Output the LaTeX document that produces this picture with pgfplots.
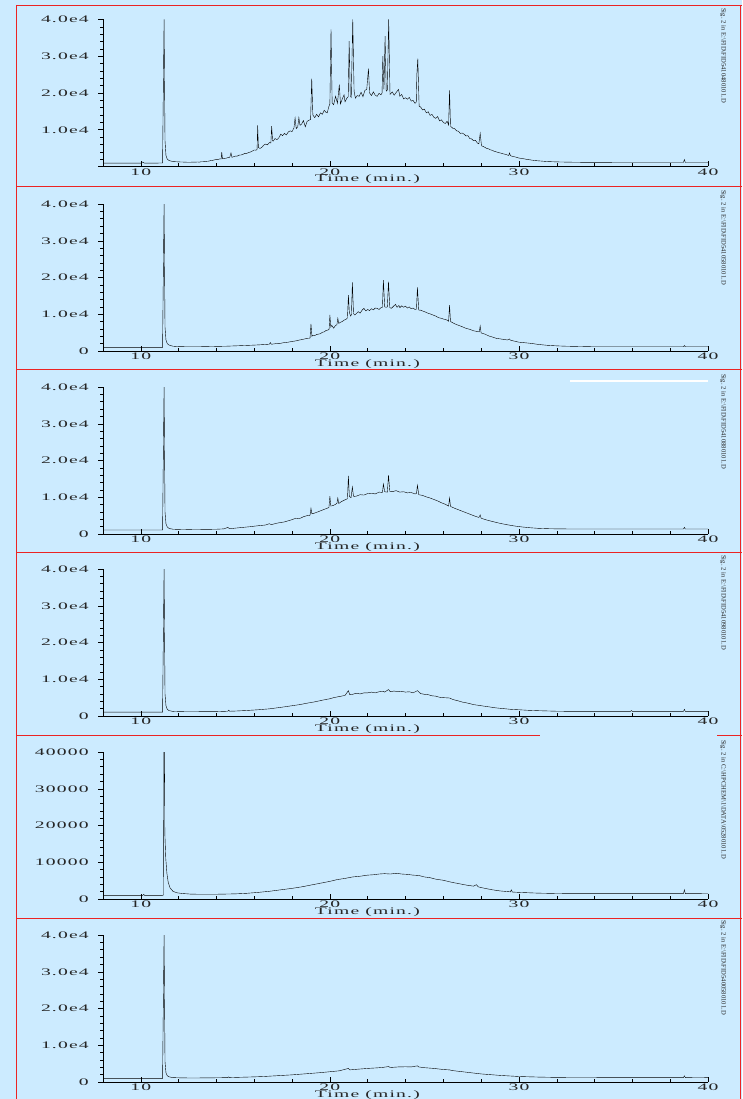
\documentclass[border=0pt]{standalone}
\usepackage{pgfplots}
\pgfplotsset{compat=1.18}
\usepackage{fontspec}
\setmainfont{Liberation Serif}
\newfontfamily\widefont[FakeStretch=1.96, LetterSpace=12]{Liberation Serif}
\newcommand\chfont{\fontsize{10}{11}\selectfont\widefont}
\newcommand\sigfont{\fontsize{6.6}{7}\selectfont}
\definecolor{panelbg}{RGB}{204,235,255}
\definecolor{framered}{RGB}{235,35,35}

\pgfplotsset{
  chrom/.style={
    scale only axis, width=605pt, height=147pt,
    xmin=8, xmax=40, ymin=0, ymax=40000,
    axis x line=bottom, axis y line=left,
    axis line style={-, black, line width=0.6pt},
    xtick={10,20,30,40}, xticklabels={10,20,30,40}, minor x tick num=4,
    ytick={0,10000,20000,30000,40000}, minor y tick num=4,
    ytick align=outside, xtick align=inside,
    major tick length=5pt, minor tick length=3pt,
    tick style={black, line width=0.5pt},
    scaled y ticks=false,
    /pgf/number format/assume math mode=true,
    every tick label/.append style={font=\chfont, text=black!85},
    xticklabel style={inner sep=0pt, yshift=-2pt},
    yticklabel style={inner sep=0pt, xshift=-9pt},
    xlabel={Time (min.)},
    xlabel style={font=\chfont, text=black!85, inner sep=0pt,
      at={(rel axis cs:0.437,0)}, anchor=north, yshift=-8pt},
    cycle list={{black, line width=1.1pt, mark=none, line join=round}},
    clip=true,
  },
  sci/.style={yticklabels={0,1.0e4,2.0e4,3.0e4,4.0e4}},
}

\begin{document}
\begin{tikzpicture}
\fill[panelbg, use as bounding box] (0pt,0pt) rectangle (742pt,-1099pt);

% ---------------- run 1 ----------------
\begin{axis}[chrom, at={(103pt,-166.5pt)}, anchor=south west,
  yticklabels={,1.0e4,2.0e4,3.0e4,4.0e4}]
\addplot coordinates {
(8,900)(10.0,900)(10.1,1200)(10.2,900)(11.15,950)(11.23,40000)(11.28,7000)(11.33,3000)(11.4,2000)(11.5,1600)(11.7,1350)(12.0,1250)(12.3,1200)
(12.5,1150)(12.6,1150)(12.7,1180)(12.8,1170)(12.9,1200)(13.0,1220)(13.1,1200)(13.2,1290)(13.3,1300)(13.4,1340)(13.5,1420)(13.6,1460)(13.7,1620)(13.8,1680)(13.9,1800)
(14.0,1930)(14.1,1930)(14.2,2100)(14.25,2050)(14.28,3900)(14.32,2100)(14.4,2200)(14.5,2250)(14.6,2400)(14.7,2450)(14.77,3700)(14.82,2500)(14.9,2650)
(15.0,2820)(15.1,2840)(15.2,3100)(15.3,3130)(15.4,3300)(15.5,3560)(15.6,3560)(15.7,3800)(15.8,3950)(15.9,4200)
(16.0,4500)(16.1,4450)(16.15,4700)(16.18,11200)(16.22,5200)(16.3,4900)(16.4,5200)(16.5,5800)(16.6,6100)(16.7,5900)(16.8,6500)(16.88,6400)(16.92,11000)(16.97,7000)
(17.0,6900)(17.1,7600)(17.2,7300)(17.3,7800)(17.4,8800)(17.5,8400)(17.6,9000)(17.7,8600)(17.8,9400)(17.9,9700)
(18.0,9500)(18.1,10500)(18.16,13200)(18.22,10300)(18.3,10800)(18.36,13300)(18.42,11200)(18.5,11500)(18.6,12500)(18.7,10800)(18.8,12300)(18.9,12600)(18.98,12800)
(19.04,23900)(19.1,14000)(19.2,13300)(19.3,14200)(19.4,13500)(19.5,14600)(19.6,14200)(19.7,15300)(19.8,14700)(19.86,14600)(19.95,16400)
(20.0,17000)(20.06,37300)(20.12,17300)(20.2,16800)(20.3,19100)(20.4,17200)(20.5,22300)(20.56,17000)(20.65,18300)(20.75,19500)(20.8,17600)(20.9,18600)(20.97,19000)
(21.02,34100)(21.08,19200)(21.13,18800)(21.21,40000)(21.28,20500)(21.35,18600)(21.45,19300)(21.55,19100)(21.65,20200)(21.75,19000)(21.85,20700)(21.95,21000)
(22.04,26600)(22.1,20000)(22.2,19300)(22.3,20300)(22.4,19400)(22.5,19100)(22.6,19900)(22.7,19500)(22.76,20000)(22.8,30000)(22.86,21000)(22.92,35500)(22.98,20500)
(23.04,20800)(23.11,40000)(23.18,19600)(23.3,20300)(23.4,19400)(23.5,20100)(23.63,21000)(23.7,19100)(23.8,19600)(23.9,18400)
(24.0,18700)(24.1,18300)(24.2,18800)(24.3,17800)(24.4,18000)(24.5,17200)(24.57,17500)(24.6,25000)(24.65,29350)(24.72,16400)(24.8,16200)(24.9,15400)
(25.0,15600)(25.1,14600)(25.2,14900)(25.3,13900)(25.4,14200)(25.5,13400)(25.6,13100)(25.7,13600)(25.8,12400)(25.9,12700)
(26.0,12000)(26.1,11700)(26.2,12300)(26.28,11300)(26.33,20700)(26.38,11000)(26.5,10400)(26.6,10300)(26.7,9700)(26.8,9600)(26.9,9000)
(27.0,9100)(27.1,8800)(27.2,8300)(27.3,8400)(27.4,7600)(27.5,7500)(27.6,7000)(27.7,7100)(27.8,6400)(27.88,6200)(27.95,9000)
(28.02,5600)(28.1,5500)(28.2,5200)(28.3,4900)(28.4,4800)(28.5,4500)(28.6,4400)(28.7,4100)(28.8,4000)(28.9,3800)
(29.0,3700)(29.1,3550)(29.2,3400)(29.3,3300)(29.4,3100)(29.46,3000)(29.5,3700)(29.55,2950)(29.6,2850)(29.8,2600)
(30.0,2300)(30.2,2150)(30.4,1950)(30.6,1800)(30.8,1650)(31.0,1550)(31.5,1350)(32.0,1250)(32.5,1200)(33.0,1150)(34.0,1120)(35.0,1100)
(38.7,1100)(38.75,1900)(38.8,1100)(40,1100)
};
\end{axis}

% ---------------- run 2 ----------------
\begin{axis}[chrom, sci, at={(103pt,-351pt)}, anchor=south west]
\addplot coordinates {
(8,1000)(11.15,1000)(11.23,40000)(11.28,6500)(11.33,3000)(11.4,2000)(11.5,1600)(11.7,1300)(12,1200)(12.5,1150)(13,1150)(13.5,1200)(14,1250)(14.5,1300)
(15,1400)(15.5,1500)(16,1600)(16.5,1750)(16.8,1850)(16.85,2300)(16.9,1850)(17.0,1900)(17.2,2050)(17.4,2100)(17.6,2300)(17.8,2400)
(18.0,2600)(18.2,2750)(18.4,3000)(18.6,3200)(18.8,3450)(18.95,3500)(19.0,7350)(19.05,4000)(19.1,4300)(19.2,4200)(19.3,4500)(19.4,4600)(19.5,4700)(19.6,5100)(19.7,5200)(19.8,5600)(19.9,5700)(19.96,5900)
(20.0,9800)(20.05,6500)(20.1,7000)(20.2,6200)(20.3,7000)(20.37,7100)(20.42,8900)(20.47,7500)(20.55,7800)(20.65,8000)(20.75,8400)(20.85,8600)(20.93,9000)
(20.98,15200)(21.03,10500)(21.1,9500)(21.14,9900)(21.19,18700)(21.25,10200)(21.32,9800)(21.4,10200)(21.5,10700)(21.6,10300)(21.7,11100)(21.8,11600)(21.9,10900)
(22.0,11300)(22.1,11000)(22.2,11500)(22.3,11200)(22.4,11700)(22.5,11600)(22.6,11300)(22.7,11800)(22.78,11900)(22.83,19300)(22.9,12000)(22.98,11900)
(23.04,12000)(23.1,18850)(23.17,11800)(23.25,11600)(23.35,12100)(23.47,12700)(23.55,11900)(23.65,12400)(23.7,11800)(23.8,12300)(23.9,11900)
(24.0,12200)(24.1,11700)(24.2,12000)(24.3,11500)(24.4,11700)(24.5,11300)(24.58,11400)(24.63,17300)(24.7,11150)(24.8,11100)(24.9,10900)
(25.0,10700)(25.1,10500)(25.2,10250)(25.3,10100)(25.4,9900)(25.5,9700)(25.6,9500)(25.7,9200)(25.8,9000)(25.9,8900)
(26.0,8700)(26.1,8600)(26.2,8400)(26.28,8100)(26.33,12500)(26.38,8000)(26.5,7700)(26.6,7400)(26.8,7000)
(27.0,6600)(27.2,6170)(27.4,5900)(27.6,5500)(27.8,5300)(27.9,5200)(27.95,6800)(28.0,4900)(28.2,4600)(28.4,4100)(28.6,3800)(28.8,3450)
(29.0,3300)(29.2,3150)(29.4,3000)(29.5,3270)(29.55,2950)(29.7,2750)(30.0,2400)(30.5,2150)(30.75,2000)(31,1800)(31.5,1550)(32,1400)(32.5,1300)(33,1250)(34,1150)
(38.7,1150)(38.75,1500)(38.8,1150)(40,1150)
};
\end{axis}

% ---------------- run 3 ----------------
\begin{axis}[chrom, sci, at={(103pt,-534pt)}, anchor=south west]
\addplot coordinates {
(8,1100)(11.15,1100)(11.23,40000)(11.28,6000)(11.33,2800)(11.4,1900)(11.5,1500)(11.7,1300)(12,1250)(12.5,1200)(13,1230)(13.5,1260)(14,1300)(14.4,1400)(14.6,1800)(14.7,1420)
(15,1600)(15.4,1800)(15.8,2000)(16.2,2250)(16.6,2450)(16.8,2800)(16.9,2550)(17.2,2950)(17.6,3300)(18.0,3900)(18.2,4300)(18.4,4200)(18.6,4700)(18.8,5000)(18.95,5100)
(19.0,7000)(19.05,5500)(19.2,5700)(19.4,6100)(19.6,6500)(19.8,6900)(19.95,7200)(20.0,10300)(20.05,7600)(20.2,7800)(20.37,8300)(20.42,9800)(20.47,8300)(20.6,8800)(20.8,9300)(20.93,9600)
(20.98,15800)(21.03,10200)(21.12,9900)(21.19,12800)(21.25,10200)(21.4,10300)(21.6,10700)(21.8,10600)(22.0,11000)(22.2,11100)(22.4,10900)(22.6,11400)(22.78,11300)(22.83,13600)(22.9,11500)
(23.04,11400)(23.1,16000)(23.17,11600)(23.3,11500)(23.5,11800)(23.7,11400)(23.9,11500)(24.1,11200)(24.3,11300)(24.5,10900)(24.58,11000)(24.63,13300)(24.7,10700)(24.9,10500)
(25.1,10100)(25.3,9800)(25.5,9400)(25.7,9000)(25.9,8500)(26.1,8100)(26.28,7600)(26.33,9800)(26.38,7500)(26.6,7000)(26.8,6600)(27.0,6200)(27.2,5800)(27.4,5400)(27.6,5000)(27.88,4500)(27.95,5200)
(28.0,4300)(28.3,3800)(28.6,3400)(29.0,2900)(29.4,2500)(29.8,2150)(30.2,1900)(30.6,1700)(31.0,1550)(31.5,1450)(32,1400)(33,1350)
(38.7,1350)(38.75,1800)(38.8,1350)(40,1350)
};
\end{axis}

% ---------------- run 4 ----------------
\begin{axis}[chrom, sci, at={(103pt,-716pt)}, anchor=south west]
\addplot coordinates {
(8,1050)(11.15,1050)(11.23,40000)(11.28,6000)(11.33,2800)(11.4,1800)(11.5,1450)(11.7,1250)(12,1200)(12.5,1150)(13,1170)(14,1200)(14.6,1300)(14.65,1600)(14.7,1300)
(15,1350)(15.6,1500)(16.2,1700)(16.8,1950)(17.4,2350)(18.0,2800)(18.4,3100)(18.8,3500)(19.2,3850)(19.6,4300)(20.0,4700)(20.2,5000)(20.4,5200)(20.6,5400)(20.8,5600)
(20.98,6900)(21.05,5800)(21.2,5900)(21.4,6200)(21.6,6000)(21.8,6300)(22.0,6300)(22.2,6500)(22.4,6300)(22.6,6600)(22.83,6700)(22.9,6500)(23.1,7200)(23.2,6600)(23.4,6800)(23.6,6600)(23.8,6700)
(24.0,6500)(24.2,6600)(24.4,6300)(24.63,6900)(24.8,6100)(25.0,5900)(25.2,5800)(25.4,5500)(25.6,5400)(25.8,5100)(26.0,5000)(26.33,4900)(26.5,4500)(26.8,4100)
(27.0,3800)(27.3,3500)(27.6,3100)(28.0,2800)(28.4,2500)(28.8,2200)(29.2,2000)(29.6,1800)(30.0,1700)(30.5,1550)(31,1450)(32,1300)(33,1250)
(35.9,1250)(35.95,1500)(36.0,1250)(38.7,1250)(38.75,1800)(38.8,1250)(40,1250)
};
\end{axis}

% ---------------- run 5 ----------------
\begin{axis}[chrom, at={(103pt,-899pt)}, anchor=south west,
  yticklabels={0,10000,20000,30000,40000}]
\addplot coordinates {
(8,1000)(10.1,1000)(10.15,1250)(10.2,1000)(11.15,1000)(11.2,1100)(11.22,40000)(11.25,40000)(11.27,18000)(11.32,11000)(11.38,7000)(11.45,4500)(11.55,3000)(11.7,2100)(11.9,1700)(12.2,1500)(12.6,1350)
(13,1300)(14,1300)(15,1400)(15.6,1550)(16.2,1800)(16.8,2100)(17.4,2500)(18.0,2900)(18.5,3300)(19.0,3800)(19.5,4300)(20.0,4800)(20.4,5300)(20.8,5600)(21.2,6000)(21.6,6200)
(22.0,6500)(22.3,6600)(22.6,6800)(22.9,6900)(23.2,6800)(23.5,7000)(23.8,6800)(24.1,6700)(24.4,6500)(24.7,6400)(25.0,6000)(25.3,5800)(25.6,5400)(26.0,5100)(26.4,4600)(26.8,4200)
(27.2,3800)(27.6,3500)(27.75,3900)(27.85,3300)(28.2,2900)(28.6,2500)(29.0,2200)(29.55,1950)(29.6,2500)(29.65,1900)(30.0,1800)(30.5,1700)(31,1600)(32,1500)(33,1450)
(38.7,1450)(38.75,2500)(38.8,1450)(40,1500)
};
\end{axis}

% ---------------- run 6 ----------------
\begin{axis}[chrom, sci, at={(103pt,-1082pt)}, anchor=south west]
\addplot coordinates {
(8,1000)(11.15,1000)(11.23,40000)(11.28,5500)(11.33,2500)(11.4,1700)(11.5,1400)(11.7,1200)(12,1150)(12.5,1100)(13,1100)(14,1150)(14.6,1200)(14.65,1400)(14.7,1200)
(15,1250)(16,1400)(16.5,1500)(17,1650)(17.5,1800)(18,1950)(18.5,2150)(19,2350)(19.5,2550)(20,2800)(20.5,3050)(20.98,3700)(21.05,3300)(21.5,3500)(22,3700)(22.5,3850)(22.83,4000)
(23.1,4200)(23.2,3950)(23.6,4100)(24,4150)(24.3,4100)(24.63,4400)(24.7,4100)(25,3900)(25.5,3700)(26,3400)(26.33,3300)(26.5,3100)(27,2800)(27.5,2500)(28,2200)(28.5,2000)
(29,1800)(29.5,1650)(30,1500)(31,1350)(32,1250)(35,1200)(38.7,1200)(38.75,1700)(38.8,1200)(40,1250)
};
\end{axis}

% sample path labels
\begin{scope}[every node/.style={font=\sigfont, text=black!85, inner sep=0pt, rotate=-90, anchor=west}]
\node at (723pt,-8pt)   {Sig. 2 in E:\textbackslash FID\textbackslash FID5410480101.D};
\node at (723pt,-190pt) {Sig. 2 in E:\textbackslash FID\textbackslash FID5410580101.D};
\node at (723pt,-374pt) {Sig. 2 in E:\textbackslash FID\textbackslash FID5410880101.D};
\node at (723pt,-555pt) {Sig. 2 in E:\textbackslash FID\textbackslash FID5410980101.D};
\node at (723pt,-740pt) {Sig. 2 in C:\textbackslash HPCHEM\textbackslash 1\textbackslash DATA\textbackslash 05280101.D};
\node at (723pt,-920pt) {Sig. 2 in E:\textbackslash FID\textbackslash FID5400580101.D};
\end{scope}

% panel frames
\begin{scope}[framered, line width=1pt]
\draw (16.5pt,-5pt) -- (16.5pt,-1099pt);
\draw (740.5pt,-5pt) -- (740.5pt,-1099pt);
\draw (16pt,-5.5pt) -- (742pt,-5.5pt);
\draw (16pt,-186.5pt) -- (742pt,-186.5pt);
\draw (16pt,-369.5pt) -- (742pt,-369.5pt);
\draw (16pt,-552.5pt) -- (742pt,-552.5pt);
\draw (16pt,-735.5pt) -- (540pt,-735.5pt);
\draw (717pt,-735.5pt) -- (742pt,-735.5pt);
\draw (16pt,-918.5pt) -- (742pt,-918.5pt);
\end{scope}
\draw[white, line width=2pt] (570pt,-381pt) -- (708pt,-381pt);
\end{tikzpicture}
\end{document}
